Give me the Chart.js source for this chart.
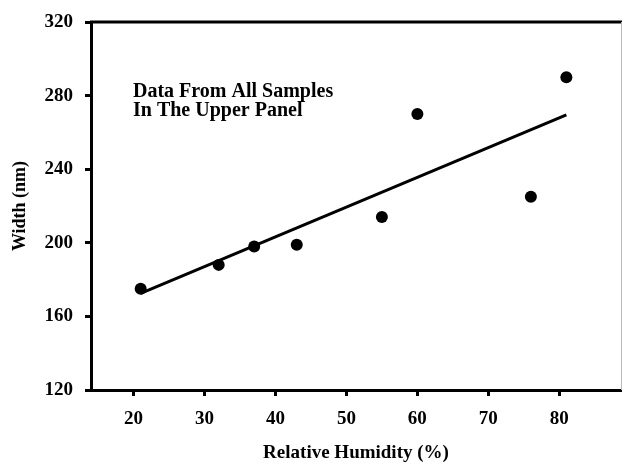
<!DOCTYPE html>
<html>
<head>
<meta charset="utf-8">
<script src="https://cdn.jsdelivr.net/npm/chart.js@4"></script>
<style>
  html, body { margin: 0; padding: 0; background: #fff; }
  #wrap { width: 622px; height: 464px; }
</style>
</head>
<body>
<div id="wrap"><canvas id="c"></canvas></div>
<script>
const humidity = [21, 32, 37, 43, 55, 60, 76, 81];
const widths = [175, 188, 198, 199, 214, 270, 225, 290];
const fitX = [21, 81];
const fitY = [172.5, 269.5];
const xTicks = [20, 30, 40, 50, 60, 70, 80];
const yTicks = [120, 160, 200, 240, 280, 320];
const note = ['Data From All Samples', 'In The Upper Panel'];

const serif = 'Liberation Serif, Times New Roman, serif';

// top frame line, faint right edge and the text note
const frame = {
    id: 'frame',
    afterDraw: (chart) => {
        const { ctx, chartArea: a } = chart;
        ctx.save();
        ctx.strokeStyle = '#000';
        ctx.lineWidth = 3;
        ctx.beginPath();
        ctx.moveTo(a.left - 1, a.top);
        ctx.lineTo(622, a.top);
        ctx.stroke();
        ctx.strokeStyle = '#bbb';
        ctx.lineWidth = 1;
        ctx.beginPath();
        ctx.moveTo(a.right + 0.5, a.top);
        ctx.lineTo(a.right + 0.5, a.bottom);
        ctx.stroke();

        ctx.fillStyle = '#000';
        ctx.font = 'bold 20px ' + serif;
        ctx.textBaseline = 'alphabetic';
        note.forEach((t, i) => ctx.fillText(t, 133, 97 + i * 19));
        ctx.restore();
    }
};

new Chart(document.getElementById('c'), {
    type: 'scatter',
    data: {
        datasets: [
            {
                data: humidity.map((h, i) => ({ x: h, y: widths[i] })),
                backgroundColor: '#000',
                borderWidth: 0,
                pointRadius: 6,
                pointHoverRadius: 6
            },
            {
                type: 'line',
                data: fitX.map((h, i) => ({ x: h, y: fitY[i] })),
                borderColor: '#000',
                borderWidth: 3,
                pointRadius: 0,
                fill: false
            }
        ]
    },
    options: {
        responsive: true,
        maintainAspectRatio: false,
        animation: false,
        layout: { autoPadding: false, padding: { top: 22, right: 1, left: 0, bottom: 0 } },
        plugins: { legend: { display: false }, tooltip: { enabled: false } },
        scales: {
            x: {
                type: 'linear',
                min: 14,
                max: 88.7,
                afterBuildTicks: s => { s.ticks = xTicks.map(v => ({ value: v })); },
                afterFit: s => { s.height = 74; s.paddingLeft = 0; s.paddingRight = 0; },
                ticks: { color: '#000', padding: 12, font: { family: serif, size: 19, weight: 'bold' } },
                grid: { drawOnChartArea: false, drawTicks: true, tickLength: 6, color: '#000', lineWidth: 3 },
                border: { display: true, color: '#000', width: 3 },
                title: { display: true, text: 'Relative Humidity (%)', color: '#000', padding: { top: 0, bottom: 0 }, font: { family: serif, size: 19, weight: 'bold' } }
            },
            y: {
                min: 120,
                max: 320,
                afterBuildTicks: s => { s.ticks = yTicks.map(v => ({ value: v })); },
                afterFit: s => { s.width = 91; s.paddingTop = 0; s.paddingBottom = 0; },
                ticks: { color: '#000', padding: 12, font: { family: serif, size: 19, weight: 'bold' } },
                grid: { drawOnChartArea: false, drawTicks: true, tickLength: 6, color: '#000', lineWidth: 3 },
                border: { display: true, color: '#000', width: 3 },
                title: { display: true, text: 'Width (nm)', color: '#000', padding: { top: 10, bottom: 0 }, font: { family: serif, size: 18, weight: 'bold' } }
            }
        }
    },
    plugins: [frame]
});
</script>
</body>
</html>
